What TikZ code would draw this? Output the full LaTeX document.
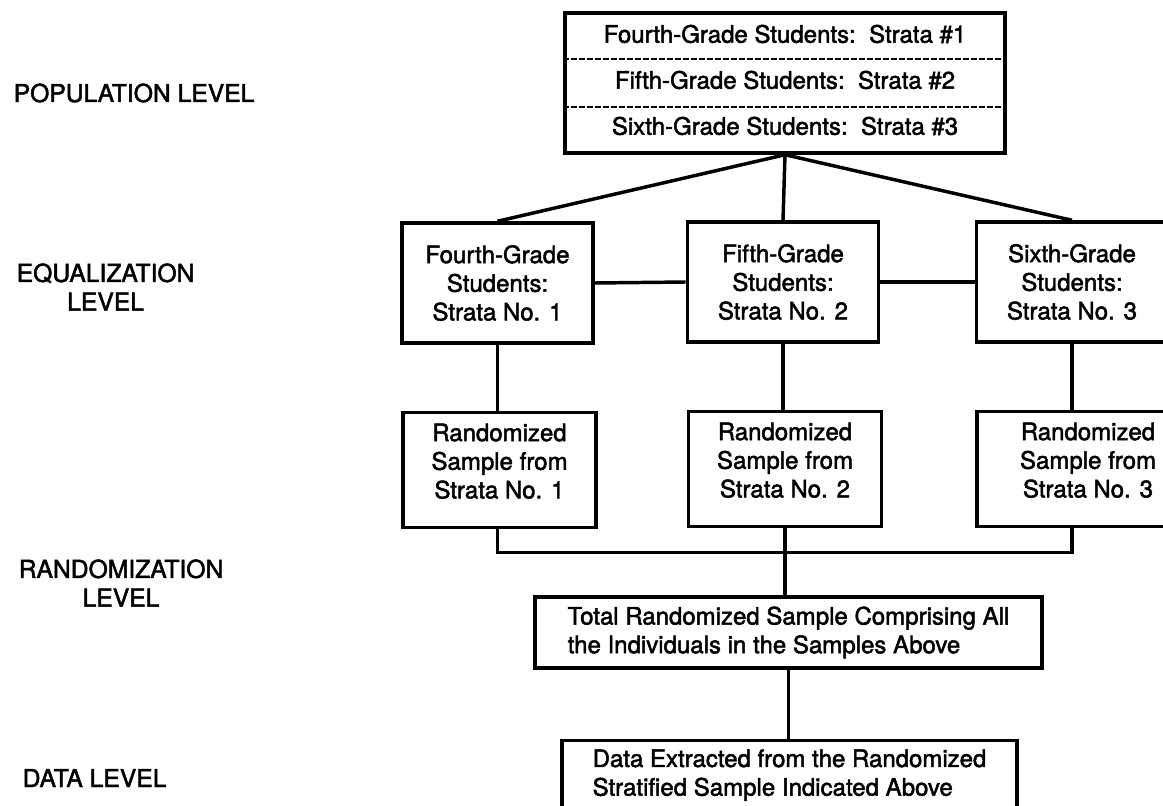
\documentclass[tikz,border=0pt]{standalone}
\usepackage{fontspec}
\setmainfont{TeX Gyre Heros}[FakeBold=2]
\usetikzlibrary{calc}

\tikzset{every picture/.style={line width=2.6pt}}
\tikzset{
  stratbox/.style={draw, line width=2.6pt, inner sep=0pt, align=center, font=\fontsize{18}{21.5}\selectfont},
  eqbox/.style={stratbox, minimum width=143.5pt, minimum height=90pt},
  rndbox/.style={stratbox, minimum width=144.75pt, minimum height=86.25pt, text depth=13.5pt},
  rowtext/.style={inner sep=0pt, font=\fontsize{18}{21.5}\selectfont},
  lvltext/.style={anchor=west, inner sep=0pt, align=center, font=\fontsize{18.5}{21.5}\selectfont},
  divider/.style={line width=1.8pt, dash pattern={on 4pt off 2pt}}
}

\begin{document}
\begin{tikzpicture}[x=0.75pt,y=0.75pt,yscale=-1,xscale=1,line width=2.6pt]
	\useasboundingbox (0,0) rectangle (1163,806);

	% level names
	\node (lvlpop) [lvltext] at (12,93) {POPULATION LEVEL};
	\node (lvleq) [lvltext] at (15,287) {EQUALIZATION\\LEVEL};
	\node (lvlrnd) [lvltext] at (17,583) {RANDOMIZATION\\LEVEL};
	\node (lvldata) [lvltext] at (21,778) {DATA LEVEL};

	% population
	\node (pop) [stratbox, minimum width=330pt, minimum height=105pt] at (785,83) {};
	\draw [divider] ($(pop.north west)!1/3!(pop.south west)$) -- ($(pop.north east)!1/3!(pop.south east)$);
	\draw [divider] ($(pop.north west)!2/3!(pop.south west)$) -- ($(pop.north east)!2/3!(pop.south east)$);
	\node (popfour) [rowtext] at (785,34) {Fourth-Grade Students:\ \ Strata \#1};
	\node (popfive) [rowtext] at (785,80) {Fifth-Grade Students:\ \ Strata \#2};
	\node (popsix) [rowtext] at (785,126) {Sixth-Grade Students:\ \ Strata \#3};

	% equalization
	\node (eqfour) [eqbox] at (497.5,283) {Fourth-Grade\\Students:\\Strata No. 1};
	\node (eqfive) [eqbox] at (783,282) {Fifth-Grade\\Students:\\Strata No. 2};
	\node (eqsix) [eqbox] at (1072,282) {Sixth-Grade\\Students:\\Strata No. 3};

	% randomization
	\node (rndfour) [rndbox] at (499.5,470) {Randomized\\Sample from\\Strata No. 1};
	\node (rndfive) [rndbox] at (785,469) {Randomized\\Sample from\\Strata No. 2};
	\node (rndsix) [rndbox, minimum width=166.5pt] at (1088,469) {Randomized\\Sample from\\Strata No. 3};
	\node (total) [stratbox, align=left, minimum width=380.25pt, minimum height=53.25pt] at (788.5,632.5) {Total Randomized Sample Comprising All\\the Individuals in the Samples Above};

	% data
	\node (data) [stratbox, align=left, anchor=north, minimum width=341.25pt, inner ysep=6.5pt, text depth=12pt] at (789.5,739) {Data Extracted from the Randomized\\Stratified Sample Indicated Above};

	\draw (pop.south) -- (eqfour.north);
	\draw (pop.south) -- (eqfive.north);
	\draw (pop.south) -- (eqsix.north);
	\draw (eqfour.east) -- (eqfive.west);
	\draw (eqfive.east) -- (eqsix.west);
	\draw (eqfour.south) -- (eqfour.south |- rndfour.north);
	\draw (eqfive.south) -- (eqfive.south |- rndfive.north);
	\draw (eqsix.south) -- (eqsix.south |- rndsix.north);
	\coordinate (join) at ($(rndfive.south)+(0,24)$);
	\draw (eqfour.south |- rndfour.south) |- (join) -| (eqsix.south |- rndsix.south);
	\draw (rndfive.south) -- (rndfive.south |- total.north);
	\draw (total.south) -- (total.south |- data.north);
\end{tikzpicture}
\end{document}
